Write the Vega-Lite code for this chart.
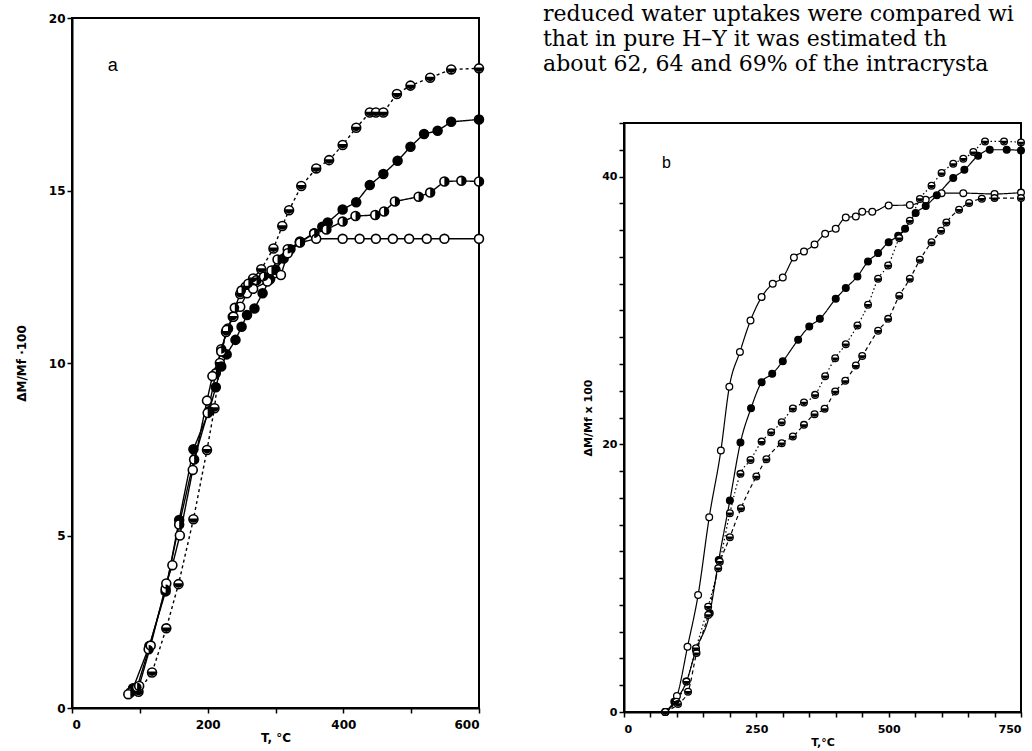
{
  "$schema": "https://vega.github.io/schema/vega-lite/v6.json",
  "padding": {"left": 14, "top": 3, "right": 0, "bottom": 5},
  "background": "white",
  "spacing": 145,
  "bounds": "flush",
  "resolve": {"scale": {"strokeDash": "independent", "fill": "independent", "shape": "independent"}},
  "config": {
    "view": {"stroke": "black", "strokeWidth": 2},
    "axis": {"grid": false, "domainColor": "black", "domainWidth": 2, "tickColor": "black", "tickWidth": 1.5, "tickSize": 5,
      "labelFont": "DejaVu Sans", "labelFontWeight": "bold", "labelFontSize": 12, "labelColor": "black",
      "titleFont": "DejaVu Sans", "titleFontWeight": "bold", "titleFontSize": 12, "titleColor": "black"}
  },
  "datasets": {
    "a": [
      {"T": 98, "v": 0.47, "s": "A"}, {"T": 118, "v": 1.03, "s": "A"}, {"T": 139, "v": 2.31, "s": "A"}, {"T": 157, "v": 3.59, "s": "A"},
      {"T": 179, "v": 5.47, "s": "A"}, {"T": 199, "v": 7.48, "s": "A"}, {"T": 210, "v": 8.69, "s": "A"}, {"T": 218, "v": 10.0, "s": "A"},
      {"T": 227, "v": 10.9, "s": "A"}, {"T": 237, "v": 11.34, "s": "A"}, {"T": 248, "v": 12.0, "s": "A"}, {"T": 256, "v": 12.21, "s": "A"},
      {"T": 267, "v": 12.45, "s": "A"}, {"T": 279, "v": 12.72, "s": "A"}, {"T": 297, "v": 13.32, "s": "A"}, {"T": 310, "v": 13.97, "s": "A"},
      {"T": 320, "v": 14.43, "s": "A"}, {"T": 338, "v": 15.13, "s": "A"}, {"T": 360, "v": 15.64, "s": "A"}, {"T": 379, "v": 15.88, "s": "A"},
      {"T": 399, "v": 16.32, "s": "A"}, {"T": 419, "v": 16.82, "s": "A"}, {"T": 439, "v": 17.26, "s": "A"}, {"T": 448, "v": 17.26, "s": "A"},
      {"T": 459, "v": 17.26, "s": "A"}, {"T": 479, "v": 17.8, "s": "A"}, {"T": 499, "v": 18.04, "s": "A"}, {"T": 528, "v": 18.27, "s": "A"},
      {"T": 559, "v": 18.51, "s": "A"}, {"T": 600, "v": 18.54, "s": "A"},

      {"T": 90, "v": 0.57, "s": "B"}, {"T": 114, "v": 1.8, "s": "B"}, {"T": 138, "v": 3.38, "s": "B"}, {"T": 158, "v": 5.45, "s": "B"},
      {"T": 179, "v": 7.5, "s": "B"}, {"T": 202, "v": 8.6, "s": "B"}, {"T": 212, "v": 9.3, "s": "B"}, {"T": 220, "v": 9.9, "s": "B"},
      {"T": 228, "v": 10.25, "s": "B"}, {"T": 241, "v": 10.67, "s": "B"}, {"T": 250, "v": 11.05, "s": "B"}, {"T": 258, "v": 11.39, "s": "B"},
      {"T": 269, "v": 11.58, "s": "B"}, {"T": 281, "v": 12.02, "s": "B"}, {"T": 292, "v": 12.43, "s": "B"}, {"T": 300, "v": 12.7, "s": "B"},
      {"T": 312, "v": 13.03, "s": "B"}, {"T": 322, "v": 13.3, "s": "B"}, {"T": 336, "v": 13.52, "s": "B"}, {"T": 357, "v": 13.76, "s": "B"},
      {"T": 369, "v": 13.95, "s": "B"}, {"T": 377, "v": 14.07, "s": "B"}, {"T": 399, "v": 14.45, "s": "B"}, {"T": 419, "v": 14.66, "s": "B"},
      {"T": 439, "v": 15.16, "s": "B"}, {"T": 459, "v": 15.48, "s": "B"}, {"T": 480, "v": 15.86, "s": "B"}, {"T": 499, "v": 16.27, "s": "B"},
      {"T": 519, "v": 16.64, "s": "B"}, {"T": 539, "v": 16.73, "s": "B"}, {"T": 559, "v": 16.99, "s": "B"}, {"T": 600, "v": 17.06, "s": "B"},

      {"T": 86, "v": 0.45, "s": "C"}, {"T": 96, "v": 0.6, "s": "C"}, {"T": 113, "v": 1.7, "s": "C"}, {"T": 138, "v": 3.45, "s": "C"},
      {"T": 158, "v": 5.32, "s": "C"}, {"T": 180, "v": 7.2, "s": "C"}, {"T": 200, "v": 8.55, "s": "C"}, {"T": 212, "v": 9.7, "s": "C"},
      {"T": 220, "v": 10.4, "s": "C"}, {"T": 230, "v": 11.0, "s": "C"}, {"T": 240, "v": 11.6, "s": "C"}, {"T": 250, "v": 12.1, "s": "C"},
      {"T": 260, "v": 12.3, "s": "C"}, {"T": 272, "v": 12.4, "s": "C"}, {"T": 283, "v": 12.5, "s": "C"}, {"T": 294, "v": 12.68, "s": "C"},
      {"T": 303, "v": 13.0, "s": "C"}, {"T": 318, "v": 13.3, "s": "C"}, {"T": 336, "v": 13.5, "s": "C"}, {"T": 357, "v": 13.75, "s": "C"},
      {"T": 375, "v": 13.87, "s": "C"}, {"T": 399, "v": 14.1, "s": "C"}, {"T": 418, "v": 14.26, "s": "C"}, {"T": 447, "v": 14.29, "s": "C"},
      {"T": 460, "v": 14.39, "s": "C"}, {"T": 476, "v": 14.68, "s": "C"}, {"T": 511, "v": 14.82, "s": "C"}, {"T": 528, "v": 14.94, "s": "C"},
      {"T": 549, "v": 15.26, "s": "C"}, {"T": 574, "v": 15.28, "s": "C"}, {"T": 600, "v": 15.26, "s": "C"},

      {"T": 83, "v": 0.4, "s": "D"}, {"T": 99, "v": 0.64, "s": "D"}, {"T": 116, "v": 1.81, "s": "D"}, {"T": 139, "v": 3.61, "s": "D"},
      {"T": 148, "v": 4.14, "s": "D"}, {"T": 159, "v": 5.0, "s": "D"}, {"T": 178, "v": 6.9, "s": "D"}, {"T": 199, "v": 8.91, "s": "D"},
      {"T": 207, "v": 9.62, "s": "D"}, {"T": 220, "v": 10.33, "s": "D"}, {"T": 228, "v": 10.96, "s": "D"}, {"T": 238, "v": 11.34, "s": "D"},
      {"T": 248, "v": 11.63, "s": "D"}, {"T": 258, "v": 12.02, "s": "D"}, {"T": 267, "v": 12.15, "s": "D"}, {"T": 288, "v": 12.36, "s": "D"},
      {"T": 308, "v": 12.55, "s": "D"}, {"T": 318, "v": 13.18, "s": "D"}, {"T": 336, "v": 13.49, "s": "D"}, {"T": 360, "v": 13.6, "s": "D"},
      {"T": 399, "v": 13.6, "s": "D"}, {"T": 424, "v": 13.6, "s": "D"}, {"T": 448, "v": 13.6, "s": "D"}, {"T": 473, "v": 13.6, "s": "D"},
      {"T": 497, "v": 13.6, "s": "D"}, {"T": 523, "v": 13.6, "s": "D"}, {"T": 549, "v": 13.6, "s": "D"}, {"T": 600, "v": 13.6, "s": "D"}
    ],
    "b": [
      {"T": 78, "v": 0, "s": "A"}, {"T": 100, "v": 1.2, "s": "A"}, {"T": 120, "v": 4.88, "s": "A"}, {"T": 140, "v": 8.74, "s": "A"},
      {"T": 161, "v": 14.55, "s": "A"}, {"T": 183, "v": 19.53, "s": "A"}, {"T": 199, "v": 24.3, "s": "A"}, {"T": 219, "v": 26.9, "s": "A"},
      {"T": 239, "v": 29.25, "s": "A"}, {"T": 260, "v": 31.0, "s": "A"}, {"T": 281, "v": 31.99, "s": "A"}, {"T": 300, "v": 32.46, "s": "A"},
      {"T": 321, "v": 33.95, "s": "A"}, {"T": 340, "v": 34.4, "s": "A"}, {"T": 360, "v": 34.93, "s": "A"}, {"T": 380, "v": 35.73, "s": "A"},
      {"T": 400, "v": 36.1, "s": "A"}, {"T": 419, "v": 36.94, "s": "A"}, {"T": 438, "v": 37.02, "s": "A"}, {"T": 450, "v": 37.37, "s": "A"},
      {"T": 469, "v": 37.37, "s": "A"}, {"T": 500, "v": 37.84, "s": "A"}, {"T": 540, "v": 37.87, "s": "A"}, {"T": 570, "v": 38.27, "s": "A"},
      {"T": 600, "v": 38.76, "s": "A"}, {"T": 641, "v": 38.76, "s": "A"}, {"T": 700, "v": 38.7, "s": "A"}, {"T": 750, "v": 38.8, "s": "A"},

      {"T": 78, "v": 0, "s": "B"}, {"T": 95, "v": 0.77, "s": "B"}, {"T": 118, "v": 2.27, "s": "B"}, {"T": 136, "v": 4.63, "s": "B"},
      {"T": 162, "v": 7.38, "s": "B"}, {"T": 179, "v": 11.36, "s": "B"}, {"T": 200, "v": 15.8, "s": "B"}, {"T": 220, "v": 20.13, "s": "B"},
      {"T": 240, "v": 22.7, "s": "B"}, {"T": 260, "v": 24.64, "s": "B"}, {"T": 280, "v": 25.26, "s": "B"}, {"T": 300, "v": 26.2, "s": "B"},
      {"T": 329, "v": 27.8, "s": "B"}, {"T": 350, "v": 28.8, "s": "B"}, {"T": 370, "v": 29.37, "s": "B"}, {"T": 400, "v": 30.87, "s": "B"},
      {"T": 419, "v": 31.67, "s": "B"}, {"T": 441, "v": 32.54, "s": "B"}, {"T": 461, "v": 33.66, "s": "B"}, {"T": 480, "v": 34.28, "s": "B"},
      {"T": 500, "v": 35.1, "s": "B"}, {"T": 518, "v": 35.57, "s": "B"}, {"T": 531, "v": 36.1, "s": "B"}, {"T": 551, "v": 37.27, "s": "B"},
      {"T": 570, "v": 37.8, "s": "B"}, {"T": 591, "v": 38.6, "s": "B"}, {"T": 622, "v": 39.9, "s": "B"}, {"T": 643, "v": 40.5, "s": "B"},
      {"T": 669, "v": 41.55, "s": "B"}, {"T": 691, "v": 42.0, "s": "B"}, {"T": 723, "v": 42.0, "s": "B"}, {"T": 750, "v": 41.95, "s": "B"},

      {"T": 78, "v": 0, "s": "C"}, {"T": 99, "v": 0.77, "s": "C"}, {"T": 118, "v": 2.27, "s": "C"}, {"T": 136, "v": 4.76, "s": "C"},
      {"T": 159, "v": 7.87, "s": "C"}, {"T": 181, "v": 11.23, "s": "C"}, {"T": 200, "v": 14.85, "s": "C"}, {"T": 220, "v": 17.79, "s": "C"},
      {"T": 239, "v": 18.83, "s": "C"}, {"T": 260, "v": 20.2, "s": "C"}, {"T": 278, "v": 20.9, "s": "C"}, {"T": 298, "v": 21.65, "s": "C"},
      {"T": 319, "v": 22.67, "s": "C"}, {"T": 340, "v": 23.12, "s": "C"}, {"T": 361, "v": 23.69, "s": "C"}, {"T": 380, "v": 25.09, "s": "C"},
      {"T": 399, "v": 26.43, "s": "C"}, {"T": 419, "v": 27.48, "s": "C"}, {"T": 441, "v": 28.87, "s": "C"}, {"T": 461, "v": 30.42, "s": "C"},
      {"T": 480, "v": 32.36, "s": "C"}, {"T": 499, "v": 33.36, "s": "C"}, {"T": 520, "v": 35.4, "s": "C"}, {"T": 540, "v": 36.7, "s": "C"},
      {"T": 559, "v": 38.32, "s": "C"}, {"T": 581, "v": 39.31, "s": "C"}, {"T": 600, "v": 40.26, "s": "C"}, {"T": 622, "v": 40.95, "s": "C"},
      {"T": 641, "v": 41.33, "s": "C"}, {"T": 660, "v": 41.83, "s": "C"}, {"T": 682, "v": 42.62, "s": "C"}, {"T": 718, "v": 42.62, "s": "C"},
      {"T": 750, "v": 42.55, "s": "C"},

      {"T": 78, "v": 0, "s": "D"}, {"T": 102, "v": 0.6, "s": "D"}, {"T": 121, "v": 1.52, "s": "D"}, {"T": 137, "v": 4.4, "s": "D"},
      {"T": 159, "v": 7.25, "s": "D"}, {"T": 178, "v": 10.74, "s": "D"}, {"T": 200, "v": 13.06, "s": "D"}, {"T": 221, "v": 15.22, "s": "D"},
      {"T": 250, "v": 17.59, "s": "D"}, {"T": 269, "v": 18.89, "s": "D"}, {"T": 298, "v": 20.08, "s": "D"}, {"T": 319, "v": 20.58, "s": "D"},
      {"T": 340, "v": 21.45, "s": "D"}, {"T": 360, "v": 22.25, "s": "D"}, {"T": 379, "v": 22.65, "s": "D"}, {"T": 399, "v": 23.94, "s": "D"},
      {"T": 418, "v": 24.74, "s": "D"}, {"T": 438, "v": 25.88, "s": "D"}, {"T": 450, "v": 26.6, "s": "D"}, {"T": 480, "v": 28.48, "s": "D"},
      {"T": 499, "v": 29.37, "s": "D"}, {"T": 520, "v": 31.09, "s": "D"}, {"T": 540, "v": 32.36, "s": "D"}, {"T": 559, "v": 33.78, "s": "D"},
      {"T": 581, "v": 35.1, "s": "D"}, {"T": 599, "v": 35.95, "s": "D"}, {"T": 609, "v": 36.57, "s": "D"}, {"T": 633, "v": 37.52, "s": "D"},
      {"T": 652, "v": 38.02, "s": "D"}, {"T": 676, "v": 38.34, "s": "D"}, {"T": 700, "v": 38.39, "s": "D"}, {"T": 750, "v": 38.39, "s": "D"}
    ],
    "la": [{"T": 60, "v": 18.6, "label": "a"}],
    "lb": [{"T": 80, "v": 41.0, "label": "b"}],
    "para": [
      {"line": 1, "text": "reduced water uptakes were compared wi"},
      {"line": 2, "text": "that in pure H–Y it was estimated th"},
      {"line": 3, "text": "about 62, 64 and 69% of the intracrysta"}
    ]
  },
  "hconcat": [
    {
      "width": 407, "height": 690,
      "data": {"name": "a"},
      "encoding": {
        "x": {"field": "T", "type": "quantitative", "scale": {"domain": [0, 600], "nice": false},
          "axis": {"values": [0, 100, 200, 300, 400, 500, 600], "labelExpr": "datum.value % 200 == 0 ? datum.label : ''", "title": "T, °C", "titlePadding": 2, "labelPadding": 6}},
        "y": {"field": "v", "type": "quantitative", "scale": {"domain": [0, 20], "nice": false},
          "axis": {"values": [0, 5, 10, 15, 20], "title": "ΔM/Mf ·100", "titlePadding": 20, "labelPadding": 2}}
      },
      "layer": [
        {"mark": {"type": "line", "color": "black", "strokeWidth": 1.4},
          "encoding": {"detail": {"field": "s"}, "order": {"field": "T", "type": "quantitative"},
            "strokeDash": {"field": "s", "type": "nominal", "scale": {"domain": ["A", "B", "C", "D"], "range": [[3, 3], [1, 0], [1, 0], [1, 0]]}, "legend": null}}},
        {"mark": {"type": "point", "filled": true, "shape": "circle", "stroke": "black", "strokeWidth": 1.6, "size": 80, "opacity": 1},
          "encoding": {"fill": {"field": "s", "type": "nominal", "scale": {"domain": ["A", "B", "C", "D"], "range": ["white", "black", "white", "white"]}, "legend": null}}},
        {"transform": [{"filter": "datum.s == 'A' || datum.s == 'C'"}],
          "mark": {"type": "point", "filled": true, "color": "black", "size": 80, "opacity": 1},
          "encoding": {"shape": {"field": "s", "type": "nominal", "scale": {"domain": ["A", "C"], "range": ["M-1,-0.2A1,1,0,1,0,1,-0.2Z", "M0,-1A1,1,0,0,1,0,1Z"]}, "legend": null}}},
        {"data": {"name": "la"}, "mark": {"type": "text", "font": "Liberation Sans", "fontSize": 18, "color": "black"},
          "encoding": {"text": {"field": "label"}}}
      ]
    },
    {
      "bounds": "flush",
      "spacing": 30,
      "vconcat": [
        {
          "width": 397, "height": 75,
          "view": {"stroke": null},
          "data": {"name": "para"},
          "mark": {"type": "text", "align": "left", "baseline": "middle", "font": "DejaVu Serif", "fontSize": 22, "color": "black"},
          "encoding": {
            "x": {"datum": -0.204, "type": "quantitative", "scale": {"domain": [0, 1]}, "axis": null},
            "y": {"field": "line", "type": "quantitative", "scale": {"domain": [1.16, 4.16], "reverse": true, "nice": false, "zero": false}, "axis": null},
            "text": {"field": "text"}
          }
        },
        {
          "width": 397, "height": 589,
          "data": {"name": "b"},
          "encoding": {
            "x": {"field": "T", "type": "quantitative", "scale": {"domain": [0, 750], "nice": false},
              "axis": {"values": [0, 50, 100, 150, 200, 250, 300, 350, 400, 450, 500, 550, 600, 650, 700, 750], "labelExpr": "datum.value % 250 == 0 ? datum.label : ''", "title": "T,°C", "titlePadding": 2, "labelFontSize": 11, "titleFontSize": 11, "labelPadding": 6}},
            "y": {"field": "v", "type": "quantitative", "scale": {"domain": [0, 44], "nice": false},
              "axis": {"values": [0, 2, 4, 6, 8, 10, 12, 14, 16, 18, 20, 22, 24, 26, 28, 30, 32, 34, 36, 38, 40, 42, 44], "labelExpr": "datum.value % 20 == 0 ? datum.label : ''", "title": "ΔM/Mf x 100", "titlePadding": 8, "labelFontSize": 11, "titleFontSize": 11, "labelPadding": 2}}
          },
          "layer": [
            {"mark": {"type": "line", "color": "black", "strokeWidth": 1.2, "interpolate": "monotone"},
              "encoding": {"detail": {"field": "s"}, "order": {"field": "T", "type": "quantitative"},
                "strokeDash": {"field": "s", "type": "nominal", "scale": {"domain": ["A", "B", "C", "D"], "range": [[1, 0], [1, 0], [1.5, 2.5], [4, 3]]}, "legend": null}}},
            {"mark": {"type": "point", "filled": true, "shape": "circle", "stroke": "black", "strokeWidth": 1.3, "size": 45, "opacity": 1},
              "encoding": {"fill": {"field": "s", "type": "nominal", "scale": {"domain": ["A", "B", "C", "D"], "range": ["white", "black", "white", "white"]}, "legend": null}}},
            {"transform": [{"filter": "datum.s == 'C' || datum.s == 'D'"}],
              "mark": {"type": "point", "filled": true, "color": "black", "size": 45, "opacity": 1, "shape": "M-1,-0.2A1,1,0,1,0,1,-0.2Z"},
              "encoding": {}},
            {"data": {"name": "lb"}, "mark": {"type": "text", "font": "Liberation Sans", "fontSize": 16, "color": "black"},
              "encoding": {"text": {"field": "label"}}}
          ]
        }
      ]
    }
  ]
}
